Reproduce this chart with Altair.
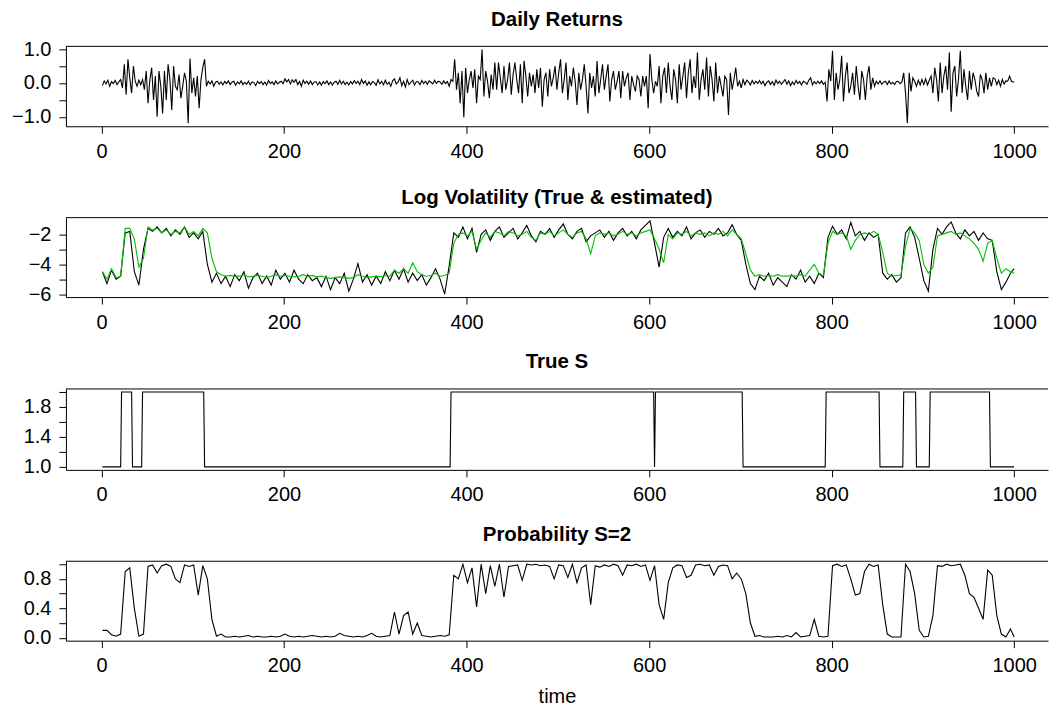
import altair as alt
import pandas as pd

# ---------------- data ----------------
# Daily returns, every 2nd day: t = 1, 3, 5, ..., 999, plus t = 1000 (10 values per row = 20 days)
returns = [
    -0.08, 0.06, -0.03, 0.08, -0.10, 0.04, -0.02, 0.07, -0.05, 0.03,    # 1-19
    0.10, -0.15, 0.55, -0.35, 0.70, 0.15, -0.30, 0.50, 0.05, -0.10,     # 21-39
    0.08, -0.05, 0.10, -0.20, 0.35, -0.60, 0.10, 0.45, -0.50, 0.20,     # 41-59
    -1.00, 0.35, -0.10, -0.90, 0.35, -0.50, 0.55, 0.10, -0.80, 0.50,    # 61-79
    -0.10, -0.20, 0.25, -0.45, -0.10, 0.30, 0.05, -1.19, 0.72, -0.30,   # 81-99
    0.15, -0.40, 0.20, -0.75, 0.10, 0.45, 0.70, -0.10, 0.05, -0.03,     # 101-119
    0.06, -0.10, 0.02, 0.05, -0.04, 0.03, -0.06, 0.04, -0.02, 0.06,     # 121-139
    -0.05, 0.02, 0.05, -0.07, 0.03, -0.03, 0.06, -0.05, 0.02, -0.04,    # 141-159
    0.05, -0.06, 0.03, 0.01, -0.08, 0.05, -0.02, 0.04, -0.05, 0.03,     # 161-179
    -0.06, 0.07, -0.02, 0.03, -0.05, 0.06, -0.03, 0.02, 0.05, -0.02,    # 181-199
    0.12, 0.03, 0.10, -0.03, 0.09, 0.02, 0.10, -0.05, 0.04, -0.10,      # 201-219
    0.08, -0.02, 0.05, -0.04, 0.06, -0.05, 0.02, 0.04, -0.06, 0.03,     # 221-239
    -0.07, 0.04, -0.02, 0.06, -0.05, 0.03, -0.06, 0.02, 0.05, -0.04,    # 241-259
    0.08, -0.03, 0.05, -0.05, 0.02, -0.06, 0.04, -0.03, 0.07, -0.02,    # 261-279
    0.05, -0.05, 0.10, -0.02, 0.06, -0.07, 0.03, -0.05, 0.04, 0.01,     # 281-299
    -0.07, 0.09, -0.03, 0.05, -0.06, 0.08, -0.04, 0.02, -0.10, 0.06,    # 301-319
    0.12, -0.03, 0.02, 0.15, -0.08, 0.05, -0.12, 0.10, -0.05, 0.02,     # 321-339
    0.08, -0.06, 0.04, 0.03, -0.05, 0.07, -0.02, 0.05, -0.04, 0.06,     # 341-359
    0.02, -0.03, 0.08, -0.02, 0.05, 0.03, -0.04, 0.06, -0.02, 0.04,     # 361-379
    -0.10, 0.10, 0.05, 0.70, -0.20, 0.30, -0.60, 0.35, -1.02, 0.45,     # 381-399
    -0.30, 0.10, 0.35, -0.15, 0.40, -0.60, 0.20, 0.10, 0.99, -0.40,     # 401-419
    0.35, 0.05, -0.45, 0.25, -0.20, 0.60, -0.20, 0.60, 0.15, -0.30,     # 421-439
    0.50, -0.20, 0.10, 0.60, -0.35, 0.25, 0.60, 0.10, -0.30, 0.55,      # 441-459
    -0.60, 0.65, 0.20, -0.40, 0.30, -0.10, 0.25, -0.30, 0.40, -0.15,    # 461-479
    0.45, -0.70, 0.10, 0.30, -0.40, 0.40, -0.10, 0.15, 0.50, -0.20,     # 481-499
    0.30, 0.70, -0.30, 0.10, 0.60, -0.50, 0.20, -0.10, 0.45, 0.05,      # 501-519
    -0.65, 0.30, -0.20, 0.10, 0.55, -0.10, -0.90, 0.30, -0.15, 0.20,    # 521-539
    -0.40, 0.65, -0.30, 0.10, 0.55, -0.20, 0.20, 0.55, -0.55, 0.10,     # 541-559
    0.35, -0.20, 0.05, 0.35, -0.45, 0.35, -0.10, 0.15, 0.30, -0.50,     # 561-579
    0.20, -0.05, -0.25, 0.20, 0.10, -0.40, 0.20, -0.10, 0.20, -0.75,    # 581-599
    0.85, 0.10, -0.30, 0.05, -0.10, 0.50, -0.60, 0.20, 0.45, -0.30,     # 601-619
    0.60, -0.10, -0.50, 0.40, 0.10, -0.60, 0.55, -0.20, 0.20, 0.60,     # 621-639
    -0.45, 0.30, 0.70, -0.30, 0.20, -0.15, 0.90, -0.50, 0.10, 0.40,     # 641-659
    -0.20, 0.75, -0.40, 0.50, 0.10, -0.55, 0.60, -0.30, 0.20, -0.10,    # 661-679
    -0.40, 0.20, 0.10, -0.95, 0.30, -0.20, 0.10, 0.45, -0.10, 0.05,     # 681-699
    -0.15, 0.10, -0.05, 0.08, 0.03, -0.06, 0.07, -0.03, 0.05, -0.02,    # 701-719
    0.07, -0.03, 0.05, -0.08, 0.02, 0.06, -0.05, 0.04, -0.07, 0.08,     # 721-739
    -0.02, 0.05, -0.04, 0.03, 0.10, -0.04, 0.06, -0.08, 0.03, -0.05,    # 741-759
    0.07, -0.02, 0.04, -0.06, 0.05, 0.02, -0.04, 0.08, 0.15, -0.06,     # 761-779
    0.04, -0.03, 0.05, -0.02, 0.06, -0.04, 0.02, -0.55, 0.40, 0.05,     # 781-799
    0.95, -0.50, 0.30, -0.20, 0.10, 0.80, -0.55, 0.20, 0.60, -0.30,     # 801-819
    -0.10, 0.30, -0.35, 0.50, -0.10, -0.50, 0.35, 0.10, -0.50, 0.20,    # 821-839
    0.50, -0.20, 0.15, -0.10, 0.05, -0.03, 0.06, -0.04, 0.02, 0.05,     # 841-859
    -0.05, 0.06, -0.03, 0.02, -0.05, 0.04, 0.05, -0.02, 0.03, 0.30,     # 861-879
    -0.30, -1.19, 0.30, -0.25, 0.15, 0.05, -0.10, 0.08, -0.06, 0.10,    # 881-899
    -0.05, 0.12, -0.06, 0.08, 0.20, -0.30, 0.45, 0.10, -0.55, 0.60,     # 901-919
    -0.30, 0.20, 0.50, -0.20, 0.90, -0.85, 0.30, 0.50, -0.40, 0.10,     # 921-939
    0.95, -0.30, 0.40, -0.10, -0.50, 0.35, -0.20, 0.30, 0.10, -0.25,    # 941-959
    -0.40, 0.25, 0.10, -0.30, 0.30, -0.20, 0.15, -0.10, 0.15, 0.12,     # 961-979
    -0.05, 0.08, -0.10, 0.10, -0.03, 0.06, 0.05, 0.20, 0.05, 0.03,      # 981-999
    0.02,                                                               # 1000
]
returns_t = list(range(1, 1000, 2)) + [1000]

# Log volatility, every 5th day: t = 1, 6, ..., 996, plus t = 1000
vol_t = list(range(1, 1000, 5)) + [1000]
vol_true = [
    -4.5, -5.3, -4.4, -5.0, -4.8, -1.9, -1.8, -4.5, -5.4, -3.0,     # 1-46
    -1.6, -1.8, -1.5, -1.9, -1.6, -2.1, -1.7, -2.0, -1.5, -2.2,     # 51-96
    -1.9, -2.3, -1.8, -4.0, -5.2, -4.6, -5.3, -4.8, -5.5, -4.7,     # 101-146
    -5.1, -4.5, -5.6, -4.9, -4.6, -5.3, -4.8, -5.4, -4.4, -5.0,     # 151-196
    -4.6, -5.2, -4.4, -5.0, -5.3, -4.7, -5.1, -4.9, -5.5, -4.8,     # 201-246
    -5.7, -4.9, -5.3, -4.6, -5.8, -5.0, -3.96, -5.2, -4.7, -5.4,    # 251-296
    -4.8, -5.3, -4.5, -5.1, -4.4, -5.0, -4.3, -5.2, -4.6, -5.1,     # 301-346
    -4.7, -5.4, -4.9, -4.3, -5.0, -6.0, -4.1, -1.9, -2.2, -1.5,     # 351-396
    -2.3, -1.6, -3.2, -2.0, -1.7, -2.4, -1.8, -1.5, -2.2, -1.9,     # 401-446
    -1.6, -2.3, -1.9, -1.4, -2.1, -2.5, -1.8, -2.0, -1.6, -2.2,     # 451-496
    -1.7, -1.3, -2.0, -2.3, -1.8, -1.6, -2.5, -2.1, -1.9, -1.7,     # 501-546
    -2.2, -1.8, -2.4, -1.9, -1.6, -2.1, -1.8, -2.3, -1.7, -1.4,     # 551-596
    -1.1, -2.6, -4.2, -2.2, -1.6, -2.2, -1.8, -2.1, -1.5, -2.3,     # 601-646
    -1.9, -1.7, -2.2, -1.8, -2.0, -1.6, -2.1, -1.9, -1.35, -2.0,    # 651-696
    -2.4, -4.0, -5.3, -5.7, -4.8, -5.1, -4.6, -5.4, -4.9, -5.2,     # 701-746
    -5.5, -4.7, -5.0, -4.4, -5.2, -4.8, -5.3, -4.6, -4.9, -2.2,     # 751-796
    -1.45, -2.0, -1.7, -2.3, -1.2, -2.1, -1.8, -2.4, -1.9, -2.2,    # 801-846
    -2.0, -4.6, -5.0, -4.7, -5.2, -4.9, -1.9, -1.5, -2.2, -3.6,     # 851-896
    -5.1, -5.8, -3.0, -1.6, -2.0, -1.5, -1.17, -1.9, -2.3, -1.7,    # 901-946
    -2.1, -1.8, -2.4, -1.9, -2.3, -2.4, -4.5, -5.7, -5.2, -4.6,     # 951-996
    -4.3,                                                           # 1000
]
vol_est = [
    -4.5, -5.0, -4.3, -4.9, -4.8, -1.6, -1.6, -2.3, -4.2, -3.6,     # 1-46
    -1.5, -1.7, -1.6, -1.9, -1.7, -2.0, -1.8, -1.9, -1.5, -2.0,     # 51-96
    -1.8, -2.1, -1.6, -1.9, -3.6, -4.5, -4.7, -4.8, -4.75, -4.8,    # 101-146
    -4.8, -4.7, -4.85, -4.8, -4.75, -4.8, -4.9, -4.8, -4.7, -4.8,   # 151-196
    -4.75, -4.8, -4.85, -4.8, -4.7, -4.8, -4.75, -4.85, -4.8, -4.9, # 201-246
    -4.95, -4.9, -4.85, -4.9, -4.95, -4.9, -4.7, -4.8, -4.9, -4.85, # 251-296
    -4.8, -4.85, -4.75, -4.8, -4.4, -4.6, -4.3, -4.6, -3.9, -4.5,   # 301-346
    -4.7, -4.8, -4.75, -4.6, -4.8, -4.75, -4.6, -2.6, -2.0, -1.9,   # 351-396
    -2.1, -1.8, -3.0, -2.4, -1.9, -2.2, -1.8, -1.9, -2.1, -1.8,     # 401-446
    -1.9, -2.1, -2.0, -1.8, -2.2, -2.4, -1.9, -2.0, -1.8, -2.1,     # 451-496
    -1.9, -1.7, -2.0, -2.2, -1.9, -1.8, -2.3, -3.3, -2.1, -1.9,     # 501-546
    -2.0, -1.9, -2.1, -2.0, -1.8, -2.0, -1.9, -2.1, -1.9, -1.8,     # 551-596
    -1.7, -2.3, -3.0, -3.9, -2.0, -2.3, -1.9, -2.0, -1.8, -2.1,     # 601-646
    -1.9, -2.0, -1.9, -2.1, -1.9, -2.0, -1.8, -2.1, -1.7, -2.0,     # 651-696
    -2.3, -3.3, -4.4, -4.8, -4.7, -4.8, -4.75, -4.8, -4.7, -4.8,    # 701-746
    -4.8, -4.75, -4.8, -4.7, -4.8, -4.4, -4.0, -4.6, -4.75, -2.6,   # 751-796
    -1.8, -2.0, -1.9, -2.1, -3.0, -2.4, -2.0, -1.9, -2.0, -1.8,     # 801-846
    -2.0, -3.2, -4.6, -4.8, -4.75, -4.7, -2.8, -1.6, -1.9, -2.4,    # 851-896
    -4.0, -4.6, -4.2, -2.1, -2.0, -1.9, -1.8, -2.0, -1.9, -2.1,     # 901-946
    -2.3, -2.6, -3.0, -3.8, -2.6, -2.4, -3.6, -4.6, -4.3, -4.5,     # 951-996
    -4.6,                                                           # 1000
]

# True state S: vertices of the step path
s_t = [1, 21, 22, 33, 34, 44, 45, 112, 113, 382, 383, 605, 606, 607, 702,
       703, 793, 794, 852, 853, 878, 879, 892, 893, 907, 908, 973, 974, 1000]
s_v = [1, 1, 2, 2, 1, 1, 2, 2, 1, 1, 2, 2, 1, 2, 2,
       1, 1, 2, 2, 1, 1, 2, 2, 1, 1, 2, 2, 1, 1]

# Probability S=2, same grid as volatility
prob = [
    0.10, 0.10, 0.04, 0.02, 0.05, 0.90, 0.95, 0.40, 0.02, 0.05,   # 1-46
    0.97, 0.99, 0.88, 0.98, 1.00, 0.97, 0.80, 0.75, 0.99, 0.97,   # 51-96
    0.99, 0.58, 0.98, 0.80, 0.25, 0.02, 0.05, 0.01, 0.01, 0.02,   # 101-146
    0.01, 0.02, 0.03, 0.01, 0.02, 0.01, 0.01, 0.02, 0.01, 0.02,   # 151-196
    0.05, 0.02, 0.01, 0.02, 0.01, 0.02, 0.03, 0.02, 0.01, 0.02,   # 201-246
    0.01, 0.02, 0.06, 0.03, 0.02, 0.01, 0.02, 0.01, 0.03, 0.06,   # 251-296
    0.02, 0.01, 0.02, 0.03, 0.35, 0.05, 0.30, 0.35, 0.05, 0.20,   # 301-346
    0.03, 0.02, 0.01, 0.02, 0.03, 0.02, 0.04, 0.85, 0.80, 1.00,   # 351-396
    0.75, 0.95, 0.42, 1.00, 0.60, 0.98, 0.70, 1.00, 0.55, 0.97,   # 401-446
    0.98, 0.99, 0.78, 1.00, 0.99, 1.00, 0.98, 0.99, 0.97, 0.80,   # 451-496
    0.99, 0.98, 0.82, 1.00, 0.75, 0.95, 0.99, 0.45, 0.98, 0.96,   # 501-546
    0.99, 0.97, 1.00, 0.98, 0.85, 0.99, 0.98, 1.00, 0.97, 0.99,   # 551-596
    0.78, 0.98, 0.45, 0.25, 0.75, 0.95, 0.99, 0.98, 0.82, 0.85,   # 601-646
    0.99, 1.00, 0.98, 0.99, 0.85, 0.97, 0.99, 0.98, 0.80, 0.88,   # 651-696
    0.80, 0.60, 0.20, 0.02, 0.03, 0.01, 0.01, 0.01, 0.02, 0.01,   # 701-746
    0.03, 0.01, 0.07, 0.01, 0.02, 0.03, 0.25, 0.02, 0.01, 0.02,   # 751-796
    0.98, 1.00, 0.97, 0.99, 0.80, 0.58, 0.60, 0.90, 1.00, 0.97,   # 801-846
    0.99, 0.45, 0.05, 0.01, 0.01, 0.01, 1.00, 0.90, 0.60, 0.10,   # 851-896
    0.01, 0.02, 0.30, 0.98, 0.97, 1.00, 0.98, 0.99, 1.00, 0.85,   # 901-946
    0.60, 0.55, 0.40, 0.25, 0.92, 0.85, 0.30, 0.05, 0.01, 0.12,   # 951-996
    0.01,                                                         # 1000
]

assert len(returns) == len(returns_t), len(returns)
assert len(vol_true) == len(vol_t), len(vol_true)
assert len(vol_est) == len(vol_t), len(vol_est)
assert len(prob) == len(vol_t), len(prob)
assert len(s_t) == len(s_v)

df_ret = pd.DataFrame({"t": returns_t, "v": returns})
df_vt = pd.DataFrame({"t": vol_t, "v": vol_true})
df_ve = pd.DataFrame({"t": vol_t, "v": vol_est})
df_s = pd.DataFrame({"t": s_t, "v": s_v})
df_p = pd.DataFrame({"t": vol_t, "v": prob})
df_one = pd.DataFrame({"k": [0]})

# ---------------- styling ----------------
FONT = "Liberation Sans"
LABEL_SIZE = 20
TITLE_SIZE = 20.5
W = 983.2
H = 80
X_DOMAIN = [-38.96, 1037.1]
GREEN = "#00c000"
LW = 1.1

xscale = alt.Scale(domain=X_DOMAIN, nice=False, zero=False)


def bottom_axis(title=None):
    kw = dict(values=[0, 200, 400, 600, 800, 1000], format="d", grid=False,
              tickSize=7, tickColor="black", tickWidth=1,
              domainColor="black", domainWidth=1,
              labelFont=FONT, labelFontSize=LABEL_SIZE, labelColor="black",
              labelPadding=8, labelFlush=False, labelOverlap=False)
    if title:
        kw.update(title=title, titleFont=FONT, titleFontSize=LABEL_SIZE,
                  titleFontWeight="normal", titleColor="black",
                  titleBaseline="alphabetic", titlePadding=27)
    else:
        kw.update(title=None)
    return alt.Axis(**kw)


def left_axis(values, expr):
    return alt.Axis(values=values, labelExpr=expr, grid=False, title=None,
                    tickSize=7, tickColor="black", tickWidth=1,
                    domainColor="black", domainWidth=1,
                    labelFont=FONT, labelFontSize=LABEL_SIZE, labelColor="black",
                    labelPadding=8, labelFlush=False, labelOverlap=False)


def panel(frames, ydomain, yvalues, yexpr, title, height, xtitle=None):
    yscale = alt.Scale(domain=ydomain, nice=False, zero=False)
    xaxis = bottom_axis(xtitle)
    yaxis = left_axis(yvalues, yexpr)
    layers = []
    for df, color in frames:
        layers.append(
            alt.Chart(df).mark_line(color=color, strokeWidth=LW).encode(
                x=alt.X("t:Q", scale=xscale, axis=xaxis),
                y=alt.Y("v:Q", scale=yscale, axis=yaxis),
            )
        )
    # top edge of the plot box
    top_edge = alt.Chart(df_one).mark_rule(color="black", strokeWidth=1).encode(
        x=alt.value(0), x2=alt.value(W), y=alt.value(0)
    )
    return alt.layer(*layers, top_edge).properties(
        width=W, height=height,
        title=alt.TitleParams(title, font=FONT, fontSize=TITLE_SIZE,
                              fontWeight="bold", color="black", anchor="middle",
                              baseline="alphabetic", offset=-7),
    )


p1 = panel([(df_ret, "black")], [-1.28, 1.08], [-1, -0.5, 0, 0.5, 1],
           "abs(datum.value % 1) < 1e-9 ? format(datum.value, '.1f') : ''",
           "Daily Returns", 80)
p2 = panel([(df_vt, "black"), (df_ve, GREEN)], [-6.2, -0.88], [-6, -5, -4, -3, -2],
           "datum.value % 2 == 0 ? format(datum.value, 'd') : ''",
           "Log Volatility (True & estimated)", 79.5)
p3 = panel([(df_s, "black")], [0.96, 2.04], [1.0, 1.2, 1.4, 1.6, 1.8, 2.0],
           "round(datum.value * 10) % 4 == 2 ? format(datum.value, '.1f') : ''",
           "True S", 81)
p4 = panel([(df_p, "black")], [-0.04, 1.04], [0, 0.2, 0.4, 0.6, 0.8, 1.0],
           "round(datum.value * 10) % 4 == 0 ? format(datum.value, '.1f') : ''",
           "Probability S=2", 79.5, xtitle="time")

chart = alt.vconcat(p1, p2, p3, p4, spacing=91.5, bounds="flush").properties(
    padding={"left": 11, "top": 9, "right": 0, "bottom": 0},
    background="white",
).configure_view(stroke=None)

chart.save("out.html", embed_options={"renderer": "svg", "actions": False})
